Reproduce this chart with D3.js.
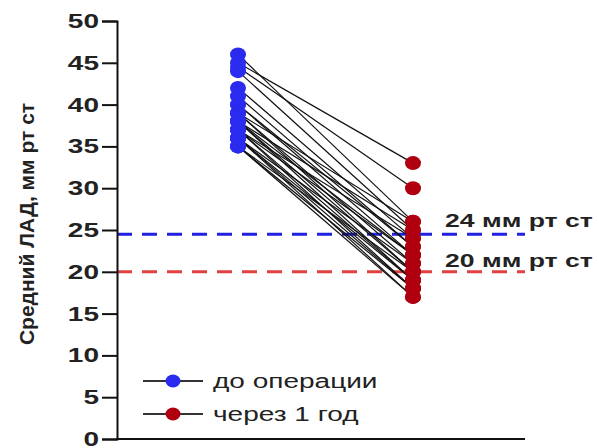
<!DOCTYPE html>
<html><head><meta charset="utf-8">
<script src="https://cdn.jsdelivr.net/npm/d3@7/dist/d3.min.js"></script>
<style>body{margin:0;background:#fff}svg{display:block}</style>
</head><body><svg id="c" width="599" height="448"></svg>
<script>
const groups = ["до операции", "через 1 год"];
const before = [45, 44.5, 46, 44, 42, 40, 40, 39, 39, 38, 38, 38, 37, 37, 37, 36, 36, 36, 35, 35, 41, 39, 38, 37, 36, 35];
const after  = [33, 30, 26, 25, 24, 23, 22, 26, 21, 20, 25, 19, 18, 22, 24, 17, 21, 19, 18, 17, 23, 20, 22, 19, 18, 20];
const refValues = [24.5, 20];
const refLabels = ["24 мм рт ст", "20 мм рт ст"];
const yTicks = [0,5,10,15,20,25,30,35,40,45,50];
const colors = ["#2b2bf0", "#b00010"];
const refColors = ["#2020e0", "#e04040"];

const svg = d3.select("#c");
const font = "'Liberation Sans', Arial, sans-serif";
const SX = 1.4;
const y = d3.scaleLinear().domain([0,50]).range([439,21]);
const x = d3.scalePoint().domain(groups).range([238,413]);

refValues.forEach((v,i)=>{
  svg.append("line").attr("x1",117).attr("x2",525).attr("y1",y(v)).attr("y2",y(v))
    .attr("stroke",refColors[i]).attr("stroke-width",3).attr("stroke-dasharray","15,10");
});

before.forEach((b,i)=>{
  svg.append("line").attr("x1",x(groups[0])).attr("y1",y(b)).attr("x2",x(groups[1])).attr("y2",y(after[i]))
    .attr("stroke","#111").attr("stroke-width",1.2);
});
before.forEach(b=>svg.append("ellipse").attr("cx",x(groups[0])).attr("cy",y(b)).attr("rx",8).attr("ry",7).attr("fill",colors[0]));
after.forEach(a=>svg.append("ellipse").attr("cx",x(groups[1])).attr("cy",y(a)).attr("rx",8).attr("ry",7).attr("fill",colors[1]));

const ax = svg.append("g").attr("transform","translate(117,0)")
  .call(d3.axisLeft(y).tickValues(yTicks).tickSize(15));
ax.select(".domain").attr("stroke","#111").attr("stroke-width",2);
ax.selectAll(".tick line").attr("stroke","#111").attr("stroke-width",2);
ax.selectAll(".tick text").attr("x",0).attr("transform",`translate(-18,0) scale(${SX},1)`)
  .attr("font-family",font).attr("font-weight","bold").attr("font-size",20).attr("fill","#222");
svg.append("line").attr("x1",116).attr("x2",525).attr("y1",439).attr("y2",439).attr("stroke","#111").attr("stroke-width",2);

svg.append("text").attr("transform","translate(34,224) rotate(-90)").attr("text-anchor","middle")
  .attr("font-family",font).attr("font-weight","bold").attr("font-size",21).attr("fill","#222")
  .text("Средний ЛАД, мм рт ст");

refLabels.forEach((t,i)=>{
  svg.append("text").attr("transform",`translate(445,${[227,267][i]}) scale(${SX},1)`).attr("font-family",font).attr("font-weight","bold")
    .attr("font-size",19).attr("fill","#222").text(t);
});

groups.forEach((g,i)=>{
  const ly = [381,414][i];
  svg.append("line").attr("x1",143).attr("x2",203).attr("y1",ly).attr("y2",ly).attr("stroke","#333").attr("stroke-width",2);
  svg.append("ellipse").attr("cx",173).attr("cy",ly).attr("rx",7.5).attr("ry",6.5).attr("fill",colors[i]);
  svg.append("text").attr("transform",`translate(213,${ly+7}) scale(${SX},1)`).attr("font-family",font).attr("font-size",20).attr("fill","#222").text(g);
});
</script></body></html>
